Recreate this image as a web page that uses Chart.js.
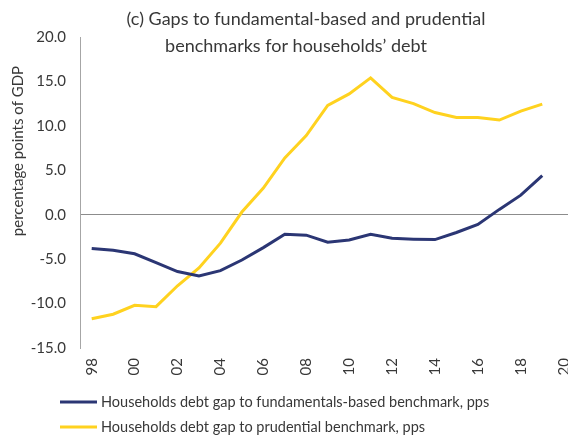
<!DOCTYPE html>
<html>
<head>
<meta charset="utf-8">
<script src="https://cdn.jsdelivr.net/npm/chart.js@4.4.1/dist/chart.umd.min.js"></script>
<style>
  html, body { margin: 0; padding: 0; background: #ffffff; }
  canvas { display: block; }
</style>
</head>
<body>
<canvas id="c" width="568" height="441"></canvas>
<script>
// ---- Data ----
const years = [1998, 1999, 2000, 2001, 2002, 2003, 2004, 2005, 2006, 2007, 2008,
               2009, 2010, 2011, 2012, 2013, 2014, 2015, 2016, 2017, 2018, 2019];
const fundamentalsGap = [-3.8, -4.0, -4.4, -5.4, -6.4, -6.9, -6.3, -5.1, -3.7, -2.2, -2.3,
                         -3.1, -2.85, -2.2, -2.65, -2.75, -2.8, -2.0, -1.1, 0.6, 2.2, 4.4];
const prudentialGap = [-11.7, -11.2, -10.2, -10.35, -8.0, -6.0, -3.2, 0.3, 3.0, 6.4, 8.9,
                       12.3, 13.6, 15.4, 13.2, 12.5, 11.5, 10.95, 10.95, 10.65, 11.65, 12.45];
const xTickYears = [1998, 2000, 2002, 2004, 2006, 2008, 2010, 2012, 2014, 2016, 2018, 2020];
const yTickValues = [-15, -10, -5, 0, 5, 10, 15, 20];
const seriesLabels = [
  "Households debt gap to fundamentals-based benchmark, pps",
  "Households debt gap to prudential benchmark, pps"
];
const titleLines = ["(c) Gaps to fundamental-based and prudential", "benchmarks for households\u2019 debt"];
const yAxisTitle = "percentage points of GDP";

const FONT = "Lato, 'Open Sans', sans-serif";
const TEXT = "#383838";
const NAVY = "#2b3674";
const YELLOW = "#ffd21f";

const overlay = {
  id: "overlay",
  afterDraw(chart) {
    const ctx = chart.ctx;
    ctx.save();
    ctx.fillStyle = TEXT;
    // title
    ctx.font = "18px " + FONT;
    ctx.textAlign = "center";
    ctx.textBaseline = "middle";
    ctx.fillText(titleLines[0], 306, 19);
    ctx.fillText(titleLines[1], 296, 46);
    // y-axis title
    ctx.save();
    ctx.translate(18.5, 151);
    ctx.rotate(-Math.PI / 2);
    ctx.font = "15px " + FONT;
    ctx.fillText(yAxisTitle, 0, 0);
    ctx.restore();
    // legend
    ctx.textAlign = "left";
    ctx.font = "14.5px " + FONT;
    chart.data.datasets.forEach((ds, i) => {
      const y = 402 + i * 25;
      ctx.strokeStyle = ds.borderColor;
      ctx.lineWidth = 3;
      ctx.beginPath();
      ctx.moveTo(60, y);
      ctx.lineTo(97, y);
      ctx.stroke();
      ctx.fillStyle = TEXT;
      ctx.fillText(ds.label, 101, y);
    });
    ctx.restore();
  }
};

new Chart(document.getElementById("c"), {
  type: "line",
  data: {
    datasets: [
      {
        label: seriesLabels[0],
        data: years.map((yr, i) => ({ x: yr, y: fundamentalsGap[i] })),
        borderColor: NAVY,
        backgroundColor: NAVY,
        borderWidth: 3,
        pointRadius: 0,
        tension: 0
      },
      {
        label: seriesLabels[1],
        data: years.map((yr, i) => ({ x: yr, y: prudentialGap[i] })),
        borderColor: YELLOW,
        backgroundColor: YELLOW,
        borderWidth: 3,
        pointRadius: 0,
        tension: 0
      }
    ]
  },
  options: {
    responsive: false,
    animation: false,
    devicePixelRatio: 1,
    layout: { padding: { top: 37, left: 0, right: 0, bottom: 0 } },
    plugins: {
      legend: { display: false },
      title: { display: false },
      tooltip: { enabled: false }
    },
    scales: {
      x: {
        type: "linear",
        min: 1997.455,
        max: 2020.2,
        afterBuildTicks: s => { s.ticks = xTickYears.map(v => ({ value: v })); },
        afterFit: s => { s.height = 93; s.paddingLeft = 0; s.paddingRight = 0; },
        grid: { display: false, drawTicks: false },
        border: { display: false },
        ticks: {
          autoSkip: false,
          minRotation: 90,
          maxRotation: 90,
          padding: 10,
          color: TEXT,
          font: { family: FONT, size: 15 },
          callback: v => String(v).slice(2)
        }
      },
      y: {
        min: -15,
        max: 20,
        afterBuildTicks: s => { s.ticks = yTickValues.map(v => ({ value: v })); },
        afterFit: s => { s.width = 80; s.paddingTop = 0; s.paddingBottom = 0; },
        grid: {
          drawTicks: false,
          color: c => (c.tick && c.tick.value === 0 ? "#8c8c8c" : "rgba(0,0,0,0)"),
          lineWidth: 1
        },
        border: { display: true, color: "#a6a6a6", width: 1 },
        ticks: {
          padding: 14,
          color: TEXT,
          font: { family: FONT, size: 15 },
          callback: v => Number(v).toFixed(1)
        }
      }
    }
  },
  plugins: [overlay]
});
</script>
</body>
</html>
